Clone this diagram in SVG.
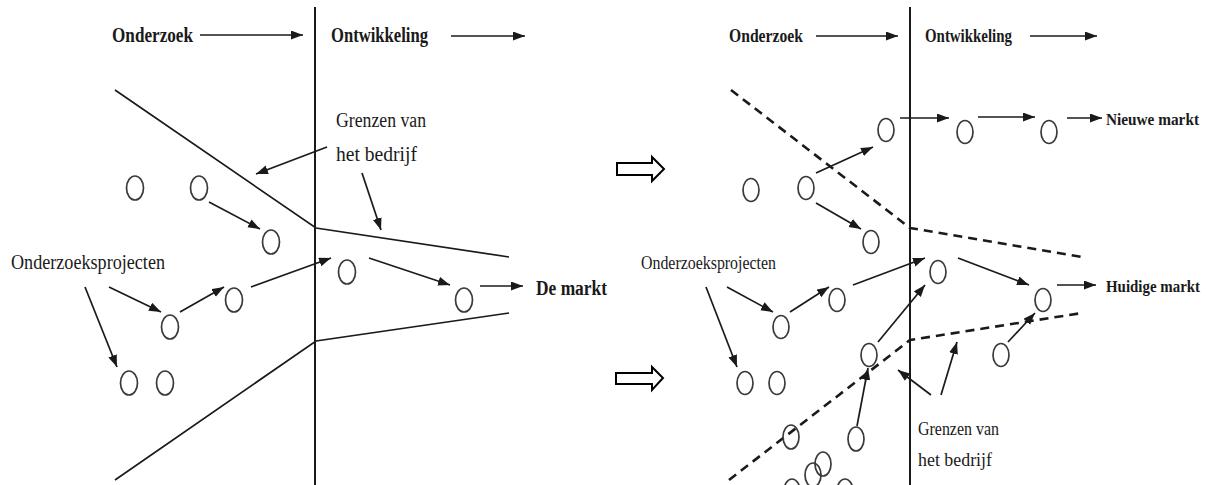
<svg xmlns="http://www.w3.org/2000/svg" width="1215" height="485" viewBox="0 0 1215 485">
<style>
.bg{fill:#fff}
.n{fill:none;stroke:#3a3a3a;stroke-width:1.7}
.c{fill:none;stroke:#1a1a1a;stroke-width:1.7}
.b{fill:none;stroke:#1a1a1a;stroke-width:1.7}
.d{fill:none;stroke:#1a1a1a;stroke-width:2.6;stroke-dasharray:9 6}
.v{stroke:#1a1a1a;stroke-width:2}
.t{font-family:"Liberation Serif","Times New Roman",serif;fill:#1a1a1a}
.bold{font-weight:bold}
.h{fill:#fff;stroke:#000;stroke-width:2}
</style>
<defs>
<marker id="ah" markerUnits="userSpaceOnUse" markerWidth="13" markerHeight="10" refX="12" refY="4.5" orient="auto">
<path d="M0,0 L12,4.5 L0,9 z" fill="#1a1a1a"/>
</marker>
</defs>
<rect class="bg" width="1215" height="485"/>

<g id="left-frame">
<line class="v" x1="315" y1="7" x2="315" y2="485"/>
<polyline class="b" points="115,90 316,228 509,257"/>
<polyline class="b" points="115,480 316,341 509,313"/>
</g>
<g id="left-labels">
<text class="t bold" x="112" y="42" font-size="20" textLength="81" lengthAdjust="spacingAndGlyphs">Onderzoek</text>
<text class="t bold" x="331" y="42" font-size="20" textLength="97" lengthAdjust="spacingAndGlyphs">Ontwikkeling</text>
<text class="t" x="336" y="127" font-size="20" textLength="90" lengthAdjust="spacingAndGlyphs">Grenzen van</text>
<text class="t" x="336" y="161" font-size="20" textLength="81" lengthAdjust="spacingAndGlyphs">het bedrijf</text>
<text class="t" x="11" y="269" font-size="20" textLength="154" lengthAdjust="spacingAndGlyphs">Onderzoeksprojecten</text>
<text class="t bold" x="536" y="295" font-size="20" textLength="71" lengthAdjust="spacingAndGlyphs">De markt</text>
</g>
<g id="left-nodes">
<ellipse id="l1" class="n" cx="135" cy="188" rx="8.5" ry="12"/>
<ellipse id="l2" class="n" cx="199" cy="188" rx="8.5" ry="12"/>
<ellipse id="l3" class="n" cx="271" cy="242" rx="8.5" ry="12"/>
<ellipse id="l4" class="n" cx="347" cy="272" rx="8.5" ry="12"/>
<ellipse id="l5" class="n" cx="464" cy="300" rx="8.5" ry="12"/>
<ellipse id="l6" class="n" cx="170" cy="327" rx="8.5" ry="12"/>
<ellipse id="l7" class="n" cx="234" cy="300" rx="8.5" ry="12"/>
<ellipse id="l8" class="n" cx="129" cy="383" rx="8.5" ry="12"/>
<ellipse id="l9" class="n" cx="165" cy="383" rx="8.5" ry="12"/>
</g>

<g id="right-frame">
<line class="v" x1="910" y1="7" x2="910" y2="485"/>
<polyline class="d" points="731,90 910,228 1082,257"/>
<polyline class="d" points="729,480 910,340 1082,313"/>
</g>
<g id="right-labels">
<text class="t bold" x="729" y="42" font-size="18" textLength="74" lengthAdjust="spacingAndGlyphs">Onderzoek</text>
<text class="t bold" x="925" y="42" font-size="18" textLength="87" lengthAdjust="spacingAndGlyphs">Ontwikkeling</text>
<text class="t bold" x="1106" y="125" font-size="16.5" textLength="93" lengthAdjust="spacingAndGlyphs">Nieuwe markt</text>
<text class="t bold" x="1106" y="292" font-size="16.5" textLength="94" lengthAdjust="spacingAndGlyphs">Huidige markt</text>
<text class="t" x="641" y="269" font-size="18" textLength="135" lengthAdjust="spacingAndGlyphs">Onderzoeksprojecten</text>
<text class="t" x="918" y="435" font-size="18" textLength="81" lengthAdjust="spacingAndGlyphs">Grenzen van</text>
<text class="t" x="918" y="466" font-size="18" textLength="74" lengthAdjust="spacingAndGlyphs">het bedrijf</text>
</g>
<g id="right-nodes">
<ellipse id="r1" class="n" cx="751" cy="190" rx="8" ry="11.5"/>
<ellipse id="r2" class="n" cx="806" cy="188" rx="8" ry="11.5"/>
<ellipse id="r3" class="n" cx="886" cy="130" rx="8" ry="11.5"/>
<ellipse id="r4" class="n" cx="965" cy="132" rx="8" ry="11.5"/>
<ellipse id="r5" class="n" cx="1049" cy="132" rx="8" ry="11.5"/>
<ellipse id="r6" class="n" cx="871" cy="242" rx="8" ry="11.5"/>
<ellipse id="r7" class="n" cx="837" cy="300" rx="8" ry="11.5"/>
<ellipse id="r8" class="n" cx="781" cy="327" rx="8" ry="11.5"/>
<ellipse id="r9" class="n" cx="938" cy="272" rx="8" ry="11.5"/>
<ellipse id="r10" class="n" cx="1043" cy="300" rx="8" ry="11.5"/>
<ellipse id="r11" class="n" cx="869" cy="355" rx="8" ry="11.5"/>
<ellipse id="r12" class="n" cx="1001" cy="355" rx="8" ry="11.5"/>
<ellipse id="r13" class="n" cx="745" cy="383" rx="8" ry="11.5"/>
<ellipse id="r14" class="n" cx="777" cy="383" rx="8" ry="11.5"/>
<ellipse id="r15" class="n" cx="791" cy="437" rx="8" ry="12"/>
<ellipse id="r16" class="n" cx="856" cy="439" rx="8" ry="12"/>
<ellipse id="r17" class="n" cx="823" cy="464" rx="8" ry="12"/>
<ellipse id="r18" class="n" cx="813" cy="475" rx="8" ry="12"/>
<ellipse id="r19" class="n" cx="792" cy="491" rx="8" ry="12"/>
<ellipse id="r20" class="n" cx="845" cy="491" rx="8" ry="12"/>
</g>

<g id="transition">
<path class="h" d="M617,163 H652 V157 L664,169 L652,181 V175 H617 Z"/>
<path class="h" d="M616,373 H652 V367 L663,378 L652,390 V384 H616 Z"/>
</g>

<g id="connectors">
<line class="c" x1="200" y1="35" x2="303" y2="35" marker-end="url(#ah)"/>
<line class="c" x1="451" y1="36" x2="525" y2="36" marker-end="url(#ah)"/>
<line class="c" x1="209" y1="202" x2="260" y2="229" marker-end="url(#ah)"/>
<line class="c" x1="180" y1="312" x2="224" y2="287" marker-end="url(#ah)"/>
<line class="c" x1="251" y1="287" x2="331" y2="258" marker-end="url(#ah)"/>
<line class="c" x1="369" y1="258" x2="450" y2="285" marker-end="url(#ah)"/>
<line class="c" x1="480" y1="286" x2="523" y2="286" marker-end="url(#ah)"/>
<line class="c" x1="109" y1="287" x2="161" y2="312" marker-end="url(#ah)"/>
<line class="c" x1="85" y1="287" x2="117" y2="367" marker-end="url(#ah)"/>
<line class="c" x1="327" y1="147" x2="256" y2="174" marker-end="url(#ah)"/>
<line class="c" x1="362" y1="173" x2="381" y2="230" marker-end="url(#ah)"/>

<line class="c" x1="816" y1="36" x2="898" y2="36" marker-end="url(#ah)"/>
<line class="c" x1="1030" y1="36" x2="1097" y2="36" marker-end="url(#ah)"/>
<line class="c" x1="816" y1="173" x2="873" y2="147" marker-end="url(#ah)"/>
<line class="c" x1="816" y1="203" x2="861" y2="229" marker-end="url(#ah)"/>
<line class="c" x1="900" y1="118" x2="949" y2="118" marker-end="url(#ah)"/>
<line class="c" x1="978" y1="117" x2="1035" y2="117" marker-end="url(#ah)"/>
<line class="c" x1="1067" y1="118" x2="1102" y2="118" marker-end="url(#ah)"/>
<line class="c" x1="727" y1="287" x2="773" y2="312" marker-end="url(#ah)"/>
<line class="c" x1="706" y1="287" x2="737" y2="367" marker-end="url(#ah)"/>
<line class="c" x1="790" y1="312" x2="829" y2="287" marker-end="url(#ah)"/>
<line class="c" x1="853" y1="285" x2="925" y2="258" marker-end="url(#ah)"/>
<line class="c" x1="958" y1="258" x2="1029" y2="285" marker-end="url(#ah)"/>
<line class="c" x1="1057" y1="285" x2="1096" y2="285" marker-end="url(#ah)"/>
<line class="c" x1="878" y1="342" x2="925" y2="285" marker-end="url(#ah)"/>
<line class="c" x1="857" y1="426" x2="868" y2="368" marker-end="url(#ah)"/>
<line class="c" x1="1008" y1="342" x2="1035" y2="313" marker-end="url(#ah)"/>
<line class="c" x1="931" y1="395" x2="898" y2="370" marker-end="url(#ah)"/>
<line class="c" x1="941" y1="395" x2="957" y2="342" marker-end="url(#ah)"/>
</g>
</svg>
